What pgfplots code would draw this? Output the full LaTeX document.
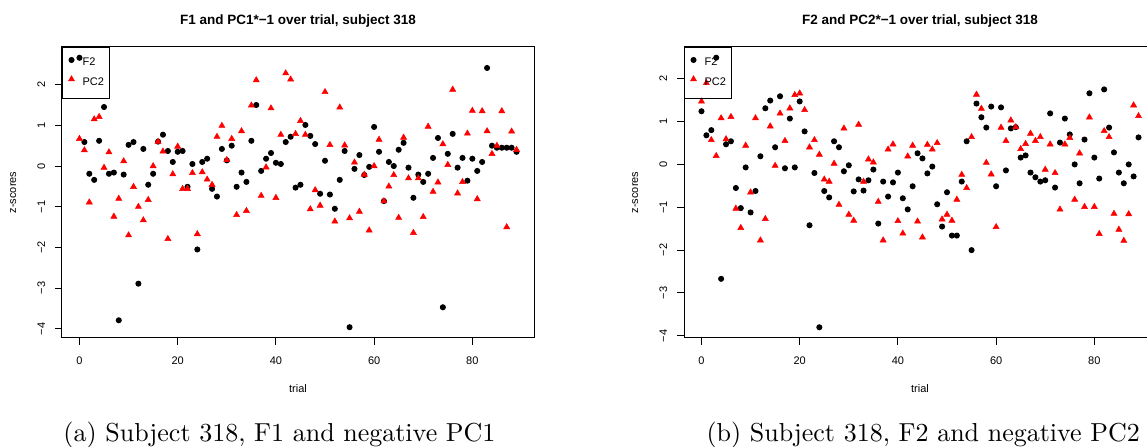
\documentclass[border=0pt]{standalone}
\usepackage{fontspec}
\usepackage{pgfplots}
\pgfplotsset{compat=1.18}
\newfontfamily\rsans{Liberation Sans}
\newcommand\rfont{\rsans\fontsize{4.4}{5}\selectfont}
\newcommand\tfont{\rsans\bfseries\fontsize{5.4}{6}\selectfont}

% R style scatter panel, 1px = 0.4pt
\pgfplotsset{
  rpanel/.style={
    scale only axis, width=188.8pt, height=116.4pt,
    xmin=-3.56, xmax=92.56,
    axis line style={line width=0.4pt},
    tick align=outside, tick pos=left,
    major tick length=2.8pt,
    tick style={black, line width=0.4pt},
    xtick={0,20,40,60,80},
    xticklabels={0,20,40,60,80},
    ytick={-4,-3,-2,-1,0,1,2},
    yticklabels={−4,−3,−2,−1,0,1,2},
    ticklabel style={font=\rfont},
    xticklabel style={anchor=base, yshift=-8pt},
    yticklabel style={xshift=-4pt, rotate=90, anchor=base},
    xlabel={trial}, ylabel={z-scores},
    every axis x label/.style={at={(axis description cs:0.5,0)}, anchor=base, yshift=-21.9pt, font=\rfont},
    every axis y label/.style={at={(axis description cs:0,0.5)}, xshift=-18.4pt, rotate=90, anchor=base, font=\rfont},
    every axis title/.style={at={(axis description cs:0.5,1)}, anchor=base, yshift=8.8pt, font=\tfont},
    legend style={at={(axis description cs:0,1)}, anchor=north west, fill=none, draw=black,
      line width=0.4pt, font=\rfont, inner xsep=2.4pt, inner ysep=4pt,
      nodes={inner sep=0pt}, column sep=3.2pt, row sep=2.4pt},
    legend cell align=left,
    legend image code/.code={\path[##1] plot coordinates {(0pt,1.6pt)};},
  },
  fpts/.style={only marks, mark=*, mark size=1pt, black, mark options={fill=black, draw=black}},
  ppts/.style={only marks, mark=triangle*, mark size=1.4pt, red, mark options={fill=red, draw=red, line width=0.2pt}},
}

\begin{document}
\begin{tikzpicture}
\useasboundingbox (0,0) rectangle (458.8pt,178.8pt);

% (a) F1 and PC1*-1
\begin{axis}[rpanel, at={(24.8pt,43.6pt)}, anchor=south west,
  ymin=-4.225, ymax=2.925,
  title={F1 and PC1*−1 over trial, subject 318}]
\addplot[fpts] coordinates {
(0,2.66) (1,0.59) (2,-0.19) (3,-0.34) (4,0.62) (5,1.45) (6,-0.19) (7,-0.16) (8,-3.79) (9,-0.21)
(10,0.52) (11,0.59) (12,-2.89) (13,0.42) (14,-0.46) (15,-0.19) (16,0.60) (17,0.77) (18,0.37) (19,0.10)
(20,0.35) (21,0.37) (22,-0.51) (23,0.05) (24,-2.05) (25,0.10) (26,0.18) (27,-0.56) (28,-0.75) (29,0.42)
(30,0.14) (31,0.50) (32,-0.51) (33,-0.16) (34,-0.39) (35,0.62) (36,1.50) (37,-0.12) (38,0.18) (39,0.32)
(40,0.08) (41,0.05) (42,0.59) (43,0.72) (44,-0.53) (45,-0.46) (46,1.01) (47,0.74) (48,0.54) (49,-0.68)
(50,0.13) (51,-0.70) (52,-1.05) (53,-0.34) (54,0.37) (55,-3.96) (56,-0.07) (57,0.27) (58,-0.22) (59,-0.02)
(60,0.96) (61,0.35) (62,-0.86) (63,0.10) (64,0.00) (65,0.40) (66,0.57) (67,-0.04) (68,-0.78) (69,-0.21)
(70,-0.39) (71,-0.19) (72,0.20) (73,0.69) (74,-3.47) (75,0.30) (76,0.79) (77,-0.04) (78,0.20) (79,-0.36)
(80,0.18) (81,-0.12) (82,0.10) (83,2.41) (84,0.50) (85,0.45) (86,0.45) (87,0.45) (88,0.45) (89,0.35)
};
\addlegendentry{F2}
\addplot[ppts] coordinates {
(0,0.67) (1,0.39) (2,-0.89) (3,1.15) (4,1.21) (5,-0.04) (6,0.34) (7,-1.24) (8,-0.80) (9,0.12)
(10,-1.70) (11,-0.51) (12,-1.00) (13,-1.33) (14,-0.83) (15,0.00) (16,0.60) (17,0.36) (18,-1.79) (19,-0.20)
(20,0.48) (21,-0.56) (22,-0.56) (23,-0.17) (24,-1.67) (25,-0.15) (26,-0.33) (27,-0.46) (28,0.72) (29,0.99)
(30,0.15) (31,0.67) (32,-1.20) (33,0.86) (34,-1.10) (35,1.49) (36,2.11) (37,-0.73) (38,-0.03) (39,1.42)
(40,-0.78) (41,0.77) (42,2.28) (43,2.13) (44,0.79) (45,1.11) (46,0.77) (47,-1.06) (48,-0.59) (49,-0.97)
(50,1.82) (51,0.52) (52,-1.36) (53,1.44) (54,0.51) (55,-1.28) (56,0.09) (57,-1.12) (58,-0.21) (59,-1.58)
(60,0.00) (61,0.65) (62,-0.86) (63,-0.50) (64,-0.22) (65,-1.27) (66,0.70) (67,-0.30) (68,-1.64) (69,-0.30)
(70,-1.25) (71,0.97) (72,-0.63) (73,-0.40) (74,0.54) (75,0.03) (76,1.88) (77,-0.67) (78,-0.39) (79,0.80)
(80,1.36) (81,-0.81) (82,1.35) (83,0.86) (84,0.30) (85,0.50) (86,1.35) (87,-1.50) (88,0.85) (89,0.40)
};
\addlegendentry{PC2}
\end{axis}

% (b) F2 and PC2*-1
\begin{scope}
\clip (0,0) rectangle (458.8pt,178.8pt);
\begin{axis}[rpanel, at={(273.6pt,43.6pt)}, anchor=south west,
  ymin=-4.05, ymax=2.74,
  title={F2 and PC2*−1 over trial, subject 318}]
\addplot[fpts] coordinates {
(0,1.24) (1,0.68) (2,0.80) (3,2.49) (4,-2.67) (5,0.47) (6,0.54) (7,-0.55) (8,-1.02) (9,-0.07)
(10,-1.12) (11,-0.62) (12,0.19) (13,1.31) (14,1.49) (15,0.40) (16,1.59) (17,-0.09) (18,1.07) (19,-0.07)
(20,1.47) (21,0.77) (22,-1.42) (23,-0.20) (24,-3.80) (25,-0.62) (26,-0.77) (27,0.54) (28,0.40) (29,-0.16)
(30,-0.02) (31,-0.63) (32,-0.35) (33,-0.61) (34,-0.37) (35,-0.12) (36,-1.38) (37,-0.40) (38,-0.75) (39,-0.42)
(40,-0.19) (41,-0.79) (42,-1.05) (43,-0.51) (44,0.26) (45,0.14) (46,-0.21) (47,-0.05) (48,-0.93) (49,-1.45)
(50,-0.65) (51,-1.66) (52,-1.66) (53,-0.40) (54,0.54) (55,-2.00) (56,1.42) (57,1.10) (58,0.86) (59,1.35)
(60,-0.51) (61,1.33) (62,-0.14) (63,0.84) (64,0.87) (65,0.16) (66,0.21) (67,-0.19) (68,-0.30) (69,-0.40)
(70,-0.37) (71,1.19) (72,-0.54) (73,0.51) (74,1.07) (75,0.70) (76,0.00) (77,-0.44) (78,0.58) (79,1.66)
(80,0.16) (81,-0.33) (82,1.75) (83,0.86) (84,0.28) (85,-0.19) (86,-0.44) (87,0.00) (88,-0.28) (89,0.63)
};
\addlegendentry{F2}
\addplot[ppts] coordinates {
(0,1.47) (1,1.90) (2,0.57) (3,0.20) (4,1.08) (5,0.59) (6,1.11) (7,-1.03) (8,-1.48) (9,0.44)
(10,-0.65) (11,1.08) (12,-1.77) (13,-1.27) (14,0.89) (15,-0.03) (16,1.19) (17,0.55) (18,1.31) (19,1.62)
(20,1.66) (21,1.27) (22,0.40) (23,0.57) (24,0.23) (25,-0.35) (26,-0.40) (27,0.02) (28,-0.94) (29,0.84)
(30,-1.17) (31,-1.31) (32,0.93) (33,-0.40) (34,0.12) (35,0.05) (36,-0.87) (37,-1.77) (38,0.35) (39,0.47)
(40,-1.32) (41,-1.61) (42,0.19) (43,0.44) (44,-1.33) (45,-1.70) (46,0.46) (47,0.35) (48,0.50) (49,-1.28)
(50,-1.17) (51,-1.31) (52,-0.82) (53,-0.24) (54,-0.55) (55,0.64) (56,1.63) (57,1.30) (58,0.04) (59,-0.23)
(60,-1.46) (61,0.86) (62,0.55) (63,1.03) (64,0.87) (65,0.36) (66,0.48) (67,0.72) (68,0.55) (69,0.64)
(70,-0.12) (71,0.47) (72,-0.20) (73,-1.05) (74,0.47) (75,0.62) (76,-0.82) (77,0.26) (78,-0.99) (79,1.10)
(80,-0.99) (81,-1.62) (82,0.78) (83,0.64) (84,-1.15) (85,-1.52) (86,-1.78) (87,-1.16) (88,1.38) (89,1.13)
};
\addlegendentry{PC2}
\end{axis}
\end{scope}

% subfigure captions
\node[anchor=base west, inner sep=0pt, font=\fontsize{10.4}{13}\selectfont] at (25.2pt,2.2pt) {(a) Subject 318, F1 and negative PC1};
\node[anchor=base west, inner sep=0pt, font=\fontsize{10.4}{13}\selectfont] at (282.4pt,2.2pt) {(b) Subject 318, F2 and negative PC2};
\end{tikzpicture}
\end{document}
